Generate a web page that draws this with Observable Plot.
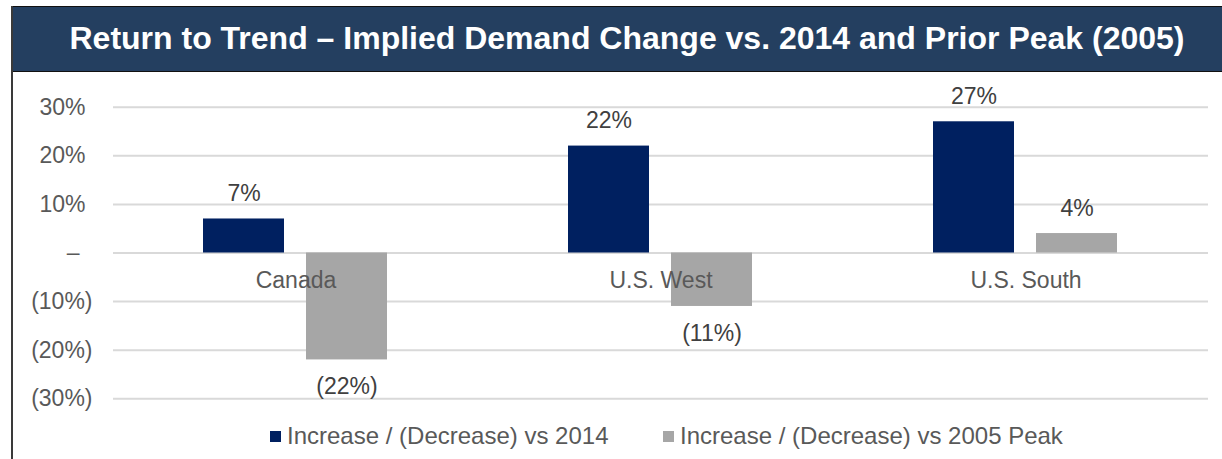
<!DOCTYPE html>
<html>
<head>
<meta charset="utf-8">
<script src="https://cdn.jsdelivr.net/npm/d3@7"></script>
<script src="https://cdn.jsdelivr.net/npm/@observablehq/plot@0.6"></script>
<style>
  body { margin: 0; background: #fff; }
  #frame { position: relative; width: 1222px; height: 459px; overflow: hidden; font-family: "Liberation Sans", Arial, sans-serif; }
  #leftBorder { position: absolute; left: 11px; top: 6px; bottom: 0; width: 2px; background: #3a3a3a; }
  #title { position: absolute; left: 11px; top: 6px; width: 1232px; height: 66px; box-sizing: border-box;
    background: #243F60; border-top: 1px solid #111; border-bottom: 1px solid #111; color: #fff; font-weight: bold;
    font-size: 32px; display: flex; align-items: center; justify-content: center; white-space: nowrap; padding-bottom: 1px; }
  #chart { position: absolute; left: 0; top: 72px; }
  .leg { position: absolute; top: 423px; height: 26px; display: flex; align-items: center; font-size: 24px; color: #595959; white-space: nowrap; }
  .sw { width: 11px; height: 11px; margin-right: 6px; }
</style>
</head>
<body>
<div id="frame">
  <div id="chart"></div>
  <div id="title">Return to Trend – Implied Demand Change vs. 2014 and Prior Peak (2005)</div>
  <div id="leftBorder"></div>
  <div id="legend"></div>
</div>
<script>
const categories = ["Canada", "U.S. West", "U.S. South"];
const seriesNames = ["Increase / (Decrease) vs 2014", "Increase / (Decrease) vs 2005 Peak"];
const vs2014 = [0.07, 0.22, 0.27];
const vs2005Peak = [-0.22, -0.11, 0.04];
const yTicks = [-0.3, -0.2, -0.1, 0, 0.1, 0.2, 0.3];
const colors = ["#002060", "#A6A6A6"];

const data = categories.flatMap((c, i) => [
  {category: c, series: seriesNames[0], value: vs2014[i]},
  {category: c, series: seriesNames[1], value: vs2005Peak[i]}
]);

const fmt = v => {
  const p = Math.round(Math.abs(v) * 100);
  return p === 0 ? "–" : v < 0 ? `(${p}%)` : `${p}%`;
};

const chart = Plot.plot({
  width: 1222,
  height: 345,
  marginLeft: 113,
  marginRight: 13.5,
  marginTop: 34.7,
  marginBottom: 18.7,
  style: {fontFamily: "'Liberation Sans', Arial, sans-serif", fontSize: "23px", background: "transparent"},
  fx: {domain: categories, padding: 0, axis: null},
  x: {domain: seriesNames, paddingInner: 0.2115, paddingOuter: 0.8606, axis: null},
  y: {domain: [-0.3, 0.3], axis: null},
  color: {domain: seriesNames, range: colors},
  marks: [
    Plot.ruleY(yTicks, {stroke: "#D9D9D9", strokeWidth: 2}),
    Plot.axisY(yTicks.filter(t => t > 0), {tickSize: 0, tickPadding: 28, tickFormat: fmt, fill: "#595959", label: null, fontSize: 23}),
    Plot.axisY(yTicks.filter(t => t < 0), {tickSize: 0, tickPadding: 21, tickFormat: fmt, fill: "#595959", label: null, fontSize: 23}),
    Plot.axisY([0], {tickSize: 0, tickPadding: 34, tickFormat: fmt, fill: "#595959", label: null, fontSize: 23}),
    Plot.barY(data, {fx: "category", x: "series", y: "value", fill: "series"}),
    Plot.text(data.filter(d => d.value >= 0), {fx: "category", x: "series", y: "value", text: d => fmt(d.value), dy: -25, fill: "#404040", fontSize: 23}),
    Plot.text(data.filter(d => d.value < 0), {fx: "category", x: "series", y: "value", text: d => fmt(d.value), dy: 27, fill: "#404040", fontSize: 23}),
    Plot.text(categories, {fx: d => d, y: () => 0, text: d => d, dy: 28, fill: "#595959", fontSize: 23})
  ]
});
document.getElementById("chart").appendChild(chart);

const legend = document.getElementById("legend");
const legendLeft = [270, 663];
seriesNames.forEach((s, i) => {
  const item = document.createElement("div");
  item.className = "leg";
  item.style.left = legendLeft[i] + "px";
  item.innerHTML = `<div class="sw" style="background:${colors[i]}"></div><span>${s}</span>`;
  legend.appendChild(item);
});
</script>
</body>
</html>
